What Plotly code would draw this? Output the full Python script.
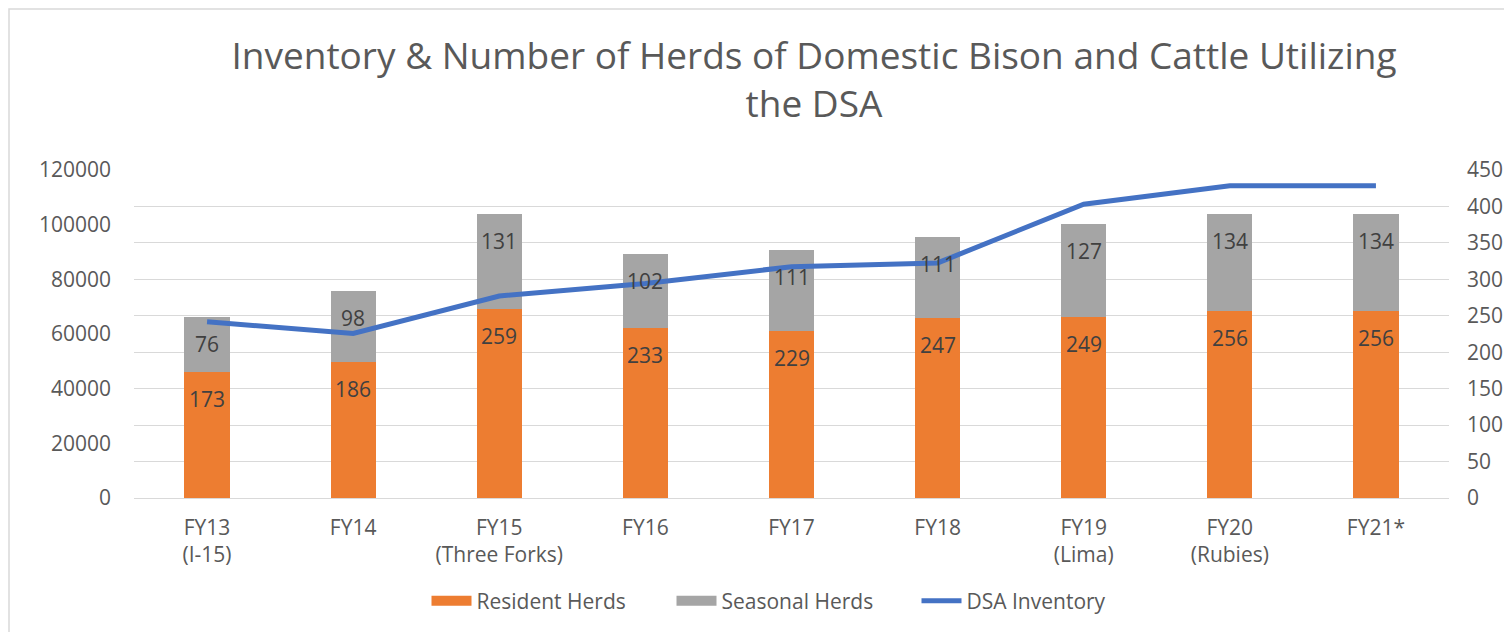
import plotly.graph_objects as go

categories = ["FY13<br>(I-15)", "FY14", "FY15<br>(Three Forks)", "FY16", "FY17",
              "FY18", "FY19<br>(Lima)", "FY20<br>(Rubies)", "FY21*"]
resident_herds = [173, 186, 259, 233, 229, 247, 249, 256, 256]
seasonal_herds = [76, 98, 131, 102, 111, 111, 127, 134, 134]
dsa_inventory = [64500, 60200, 73900, 78500, 84600, 86000, 107500, 114200, 114200]

FONT = "Open Sans"
TXT = "#595959"
LBL = "#404040"
ORANGE = "#ED7D31"
GRAY = "#A5A5A5"
BLUE = "#4472C4"
FS = 21

fig = go.Figure()
fig.add_trace(go.Bar(x=categories, y=resident_herds, name="Resident Herds",
                     marker=dict(color=ORANGE, line=dict(width=0)), width=0.31,
                     yaxis="y", showlegend=False))
fig.add_trace(go.Bar(x=categories, y=seasonal_herds, name="Seasonal Herds",
                     marker=dict(color=GRAY, line=dict(width=0)), width=0.31,
                     yaxis="y", showlegend=False))
fig.add_trace(go.Scatter(x=categories, y=dsa_inventory, name="DSA Inventory",
                         mode="lines", line=dict(color=BLUE, width=5),
                         yaxis="y2", showlegend=False))
# legend proxies (wide swatches like the original)
fig.add_trace(go.Scatter(x=[None], y=[None], name="Resident Herds", mode="lines",
                         line=dict(color=ORANGE, width=14), yaxis="y2"))
fig.add_trace(go.Scatter(x=[None], y=[None], name="Seasonal Herds", mode="lines",
                         line=dict(color=GRAY, width=14), yaxis="y2"))
fig.add_trace(go.Scatter(x=[None], y=[None], name="DSA Inventory", mode="lines",
                         line=dict(color=BLUE, width=5), yaxis="y2"))

annotations = []
for c, r, s in zip(categories, resident_herds, seasonal_herds):
    annotations.append(dict(x=c, y=r, xref="x", yref="y", text=str(r), showarrow=False,
                            yanchor="middle", yshift=-27,
                            font=dict(family=FONT, size=FS, color=LBL)))
    annotations.append(dict(x=c, y=r + s, xref="x", yref="y", text=str(s), showarrow=False,
                            yanchor="middle", yshift=-27,
                            font=dict(family=FONT, size=FS, color=LBL)))

OFF = 8  # page body margin
W, H = 1512 - 2 * OFF, 640 - 2 * OFF
L, T = 134 - OFF, 170 - OFF
R = W + OFF - 1449
B = H + OFF - 498
PW, PH = W - L - R, H - T - B

fig.update_layout(
    width=W, height=H,
    margin=dict(l=L, r=R, t=T, b=B, autoexpand=False),
    paper_bgcolor="white", plot_bgcolor="white",
    barmode="stack",
    font=dict(family=FONT, size=FS, color=TXT),
    title=dict(text="Inventory & Number of Herds of Domestic Bison and Cattle Utilizing<br>the DSA",
               x=(814 - OFF) / W, xanchor="center", xref="container",
               y=1 - (69 - OFF) / H, yanchor="middle", yref="container",
               font=dict(family=FONT, size=37, color=TXT)),
    xaxis=dict(showgrid=False, showline=False, ticks="", ticklabelstandoff=15,
               tickfont=dict(family=FONT, size=FS, color=TXT)),
    yaxis=dict(range=[0, 450], dtick=50, side="right", showgrid=True,
               gridcolor="#D9D9D9", gridwidth=1.3, zeroline=True, zerolinecolor="#D9D9D9",
               zerolinewidth=1.3, showline=False, ticks="", ticklabelstandoff=17,
               tickfont=dict(family=FONT, size=FS, color=TXT)),
    yaxis2=dict(range=[0, 120000], dtick=20000, side="left", overlaying="y",
                showgrid=False, zeroline=False, showline=False, ticks="",
                ticklabelstandoff=22, tickformat="d",
                tickfont=dict(family=FONT, size=FS, color=TXT)),
    legend=dict(orientation="h", x=(794 - OFF - L) / PW, xanchor="center",
                y=(H - B - (601 - OFF)) / PH, yanchor="middle",
                font=dict(family=FONT, size=FS, color=TXT), traceorder="normal",
                itemwidth=40, entrywidth=190, entrywidthmode="pixels",
                bgcolor="rgba(0,0,0,0)"),
    annotations=annotations,
    shapes=[dict(type="rect", xref="paper", yref="paper",
                 x0=-(L - 1) / PW, x1=1 + (R + 5) / PW,
                 y0=-(B + 5) / PH, y1=1 + (T - 1) / PH,
                 line=dict(color="#D9D9D9", width=1.5), layer="below")],
)

fig.write_html("out.html")
